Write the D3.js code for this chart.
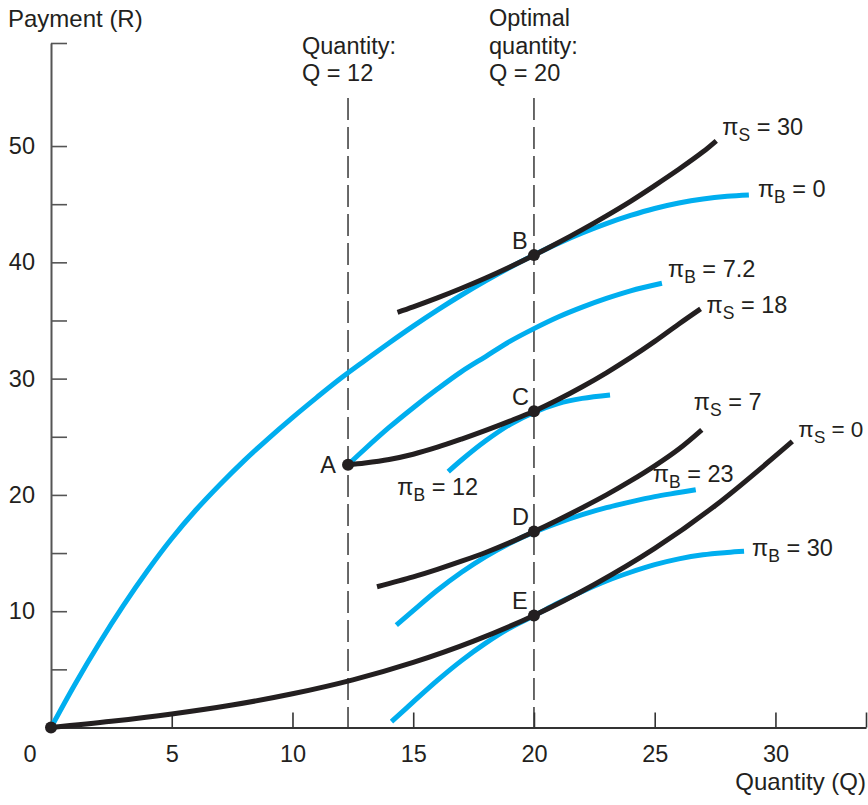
<!DOCTYPE html>
<html>
<head>
<meta charset="utf-8">
<script src="https://cdn.jsdelivr.net/npm/d3@7"></script>
<style>
  html, body { margin: 0; padding: 0; background: #fff; }
  svg { display: block; font-family: "Liberation Sans", Arial, Helvetica, sans-serif; }
</style>
</head>
<body>
<svg id="chart" width="868" height="805"></svg>
<script>
// ---------------- data ----------------
const xTicks = [5, 10, 15, 20, 25, 30];
const yTicks = [5, 10, 15, 20, 25, 30, 35, 40, 45, 50];
const xMax = 33.75;
const yMax = 58.86;
const qLines = [12.3, 20];

// Buyer iso-profit curves (blue)
const piB0  = [[0,0],[1,3.75],[2,7.25],[3,10.5],[4,13.5],[5,16.25],[6,18.7],[7,20.9],[8,22.95],[9,24.85],[10,26.65],[11,28.37],[12,30.03],[13,31.56],[14,33.06],[15,34.51],[16,35.89],[17,37.19],[18,38.41],[19,39.56],[20,40.63],[21,41.63],[22,42.53],[23,43.33],[24,44.03],[25,44.63],[26,45.1],[27,45.45],[28,45.68],[28.9,45.8]];
const piB72 = [[12.3,22.6],[13,23.95],[14,25.8],[15,27.5],[16,29.1],[17,30.6],[18,31.9],[19,33.2],[20,34.3],[21,35.3],[22,36.15],[23,36.9],[24,37.55],[25.3,38.2]];
const piB12 = [[16.45,22.0],[17,23.0],[18,24.65],[19,26.05],[20,27.1],[21,27.85],[22,28.3],[23.15,28.6]];
const piB23 = [[14.3,8.8],[15,10.05],[16,11.8],[17,13.35],[18,14.7],[19,15.85],[20,16.8],[21,17.6],[22,18.3],[23,18.9],[24,19.4],[25,19.85],[26,20.2],[26.7,20.45]];
const piB30 = [[14.1,0.5],[15,2.2],[16,4.05],[17,5.75],[18,7.25],[19,8.55],[20,9.6],[21,10.7],[22,11.7],[23,12.6],[24,13.35],[25,14.0],[26,14.5],[27,14.85],[28,15.05],[28.7,15.15]];

// Seller iso-profit curves (black)
const piS30 = [[14.35,35.7],[15,36.17],[16,36.94],[17,37.77],[18,38.65],[19,39.6],[20,40.61],[21,41.68],[22,42.81],[23,44.0],[24,45.25],[25,46.6],[26,48.0],[27,49.5],[27.55,50.45]];
const piS18 = [[12.3,22.6],[13,22.75],[14,23.05],[15,23.5],[16,24.1],[17,24.8],[18,25.55],[19,26.35],[20,27.2],[21,28.2],[22,29.3],[23,30.5],[24,31.8],[25,33.2],[26,34.7],[26.9,36.0]];
const piS7  = [[13.5,12.1],[15,12.95],[16,13.6],[17,14.3],[18,15.05],[19,15.9],[20,16.85],[21,17.85],[22,18.9],[23,20.0],[24,21.2],[25,22.5],[26,23.95],[26.95,25.6]];
const piS0  = [[0,0],[2.5,0.53],[5,1.16],[7.5,1.93],[10,2.9],[12.5,4.1],[15,5.6],[17.5,7.43],[20,9.64],[22.5,12.3],[25,15.4],[27.5,19.07],[30.7,24.6]];

const curveNames = ["piB0","piB72","piB12","piB23","piB30","piS30","piS18","piS7","piS0"];
const curveData  = {piB0, piB72, piB12, piB23, piB30, piS30, piS18, piS7, piS0};
const curveParty = {piB0:"B", piB72:"B", piB12:"B", piB23:"B", piB30:"B", piS30:"S", piS18:"S", piS7:"S", piS0:"S"};
const curveValue = {piB0:"0", piB72:"7.2", piB12:"12", piB23:"23", piB30:"30", piS30:"30", piS18:"18", piS7:"7", piS0:"0"};

const pointNames = ["A","B","C","D","E"];
const pointData  = {A:[12.3,22.6], B:[20,40.62], C:[20,27.2], D:[20,16.85], E:[20,9.64]};

// ---------------- layout ----------------
const svg = d3.select("#chart");
const ink = "#231F20", blue = "#00AEEF";
const fs = 23.5;
const x = d3.scaleLinear().domain([0, xMax]).range([51, 866]);
const y = d3.scaleLinear().domain([0, yMax]).range([727.5, 43]);

// dashed quantity lines
svg.selectAll("line.q").data(qLines).join("line")
  .attr("x1", d => x(d)).attr("x2", d => x(d))
  .attr("y1", 98).attr("y2", y(0))
  .attr("stroke", "#444").attr("stroke-width", 1.6)
  .attr("stroke-dasharray", "22,7");

// axes
const xAxis = d3.axisBottom(x).tickValues(xTicks.concat([xMax]))
  .tickSizeInner(-15).tickSizeOuter(0).tickPadding(17.5)
  .tickFormat(d => xTicks.includes(d) ? d : "");
const gx = svg.append("g").attr("transform", `translate(0,${y(0)})`).call(xAxis);
gx.select(".domain").attr("stroke", "#333").attr("stroke-width", 2);
gx.selectAll(".tick line").attr("stroke", "#333").attr("stroke-width", 1.6);
gx.selectAll("text").attr("font-size", fs).attr("fill", ink).attr("font-family", null);

const yAxis = d3.axisLeft(y).tickValues(yTicks.concat([yMax]))
  .tickSizeInner(-16).tickSizeOuter(0).tickPadding(16)
  .tickFormat(d => (d % 10 === 0) ? d : "");
const gy = svg.append("g").attr("transform", `translate(${x(0)},0)`).call(yAxis);
gy.select(".domain").attr("stroke", "#555").attr("stroke-width", 2);
gy.selectAll(".tick line").attr("stroke", "#555").attr("stroke-width", 1.6);
gy.selectAll("text").attr("font-size", fs).attr("fill", ink).attr("font-family", null);

// origin label
svg.append("text").attr("x", x(0) - 21).attr("y", 761.5)
  .attr("text-anchor", "middle").attr("font-size", fs).attr("fill", ink).text("0");

// axis titles
svg.append("text").attr("x", 8).attr("y", 27).attr("font-size", 24).attr("fill", ink).text("Payment (R)");
svg.append("text").attr("x", 866).attr("y", 790).attr("text-anchor", "end")
  .attr("font-size", 24).attr("fill", ink).text("Quantity (Q)");

// quantity annotations
const annot = svg.append("g").attr("font-size", fs).attr("fill", ink);
[["Quantity:", 302, 54], ["Q = 12", 302, 81],
 ["Optimal", 489, 26], ["quantity:", 489, 54], ["Q = 20", 489, 81]]
  .forEach(([t, tx, ty]) => annot.append("text").attr("x", tx).attr("y", ty).text(t));

// curves
const line = d3.line().x(d => x(d[0])).y(d => y(d[1])).curve(d3.curveCatmullRom.alpha(0.5));
svg.selectAll("path.curve").data(curveNames).join("path")
  .attr("class", "curve")
  .attr("d", n => line(curveData[n]))
  .attr("fill", "none")
  .attr("stroke", n => curveParty[n] === "B" ? blue : ink)
  .attr("stroke-width", 5);

// curve labels (offset from curve end, or start for piB12)
const labelOffset = {
  piS30:[6,-6,"end"], piB0:[9,2,"end"], piB72:[6,-6,"end"], piS18:[6,4,"end"],
  piS7:[-8,-20,"end"], piS0:[6,-4,"end"], piB23:[-43,-8,"end"], piB30:[8,5,"end"],
  piB12:[-51,23,"start"]
};
const labels = svg.append("g").attr("fill", ink);
curveNames.forEach(n => {
  const [dx, dy, which] = labelOffset[n];
  const pts = curveData[n];
  const p = which === "end" ? pts[pts.length - 1] : pts[0];
  const t = labels.append("text").attr("x", x(p[0]) + dx).attr("y", y(p[1]) + dy)
    .attr("font-size", n === "piS0" ? 22.5 : fs);
  t.append("tspan").text("\u03C0");
  t.append("tspan").attr("font-size", n === "piS0" ? 17 : 17.5).attr("dy", 6).text(curveParty[n]);
  t.append("tspan").attr("dy", -6).text(" = " + curveValue[n]);
});

// points
svg.selectAll("circle.pt").data(["O"].concat(pointNames)).join("circle")
  .attr("cx", n => n === "O" ? x(0) : x(pointData[n][0]))
  .attr("cy", n => n === "O" ? y(0) : y(pointData[n][1]))
  .attr("r", 6).attr("fill", ink);

svg.selectAll("text.pl").data(pointNames).join("text")
  .attr("x", n => n === "A" ? x(pointData[n][0]) - 12 : x(pointData[n][0]) - 22)
  .attr("y", n => n === "A" ? y(pointData[n][1]) + 8 : y(pointData[n][1]) - 6.5)
  .attr("text-anchor", n => n === "A" ? "end" : "start")
  .attr("font-size", fs).attr("fill", ink).text(n => n);
</script>
</body>
</html>
